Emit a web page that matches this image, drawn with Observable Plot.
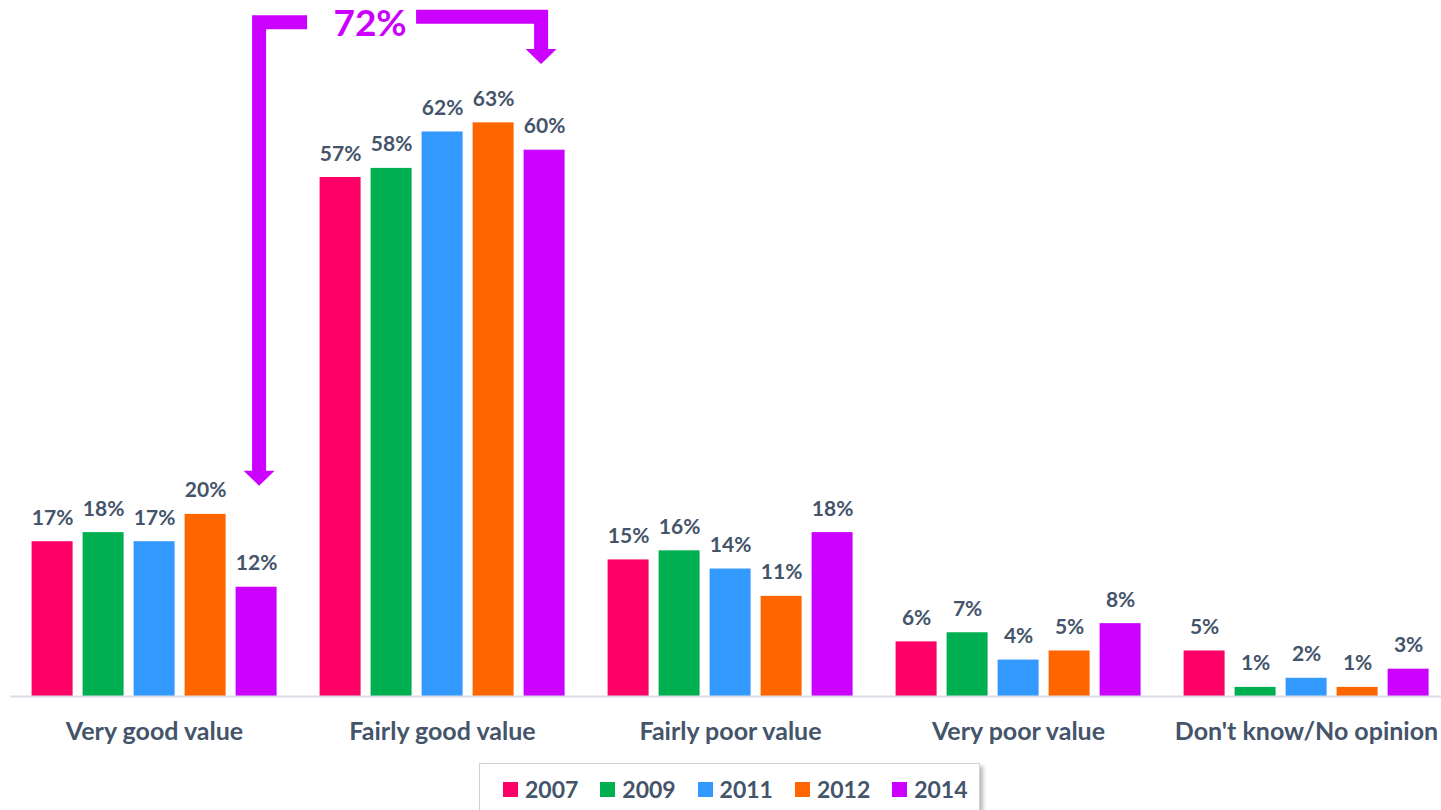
<!DOCTYPE html>
<html>
<head>
<meta charset="utf-8">
<script src="https://cdn.jsdelivr.net/npm/d3@7"></script>
<script src="https://cdn.jsdelivr.net/npm/@observablehq/plot@0.6"></script>
<style>
  html, body { margin: 0; padding: 0; background: #fff; overflow: hidden; }
  #chart svg { display: block; }
  .legend {
    margin-left: 479px; margin-top: 3px; width: 501px; height: 60px;
    box-sizing: border-box; border: 1px solid #d2d2d2;
    box-shadow: 3px 3px 4px rgba(0,0,0,0.28);
    display: flex; padding-left: 23px; padding-top: 11px;
    font-family: Lato, sans-serif; font-weight: 700; font-size: 23px; color: #44546A;
  }
  .legend .item { width: 97.3px; display: flex; align-items: center; height: 28px; flex: none; }
  .legend .sw { width: 15px; height: 15px; margin-right: 7px; flex: none; }
</style>
</head>
<body>
<div id="chart"></div>
<div class="legend" id="legend"></div>
<script>
// ---- data ----
const categories = ["Very good value", "Fairly good value", "Fairly poor value", "Very poor value", "Don't know/No opinion"];
const years = ["2007", "2009", "2011", "2012", "2014"];
const colors = ["#FF0066", "#00B050", "#3399FF", "#FF6600", "#CC00FF"];
const v2007 = [17, 57, 15, 6, 5];
const v2009 = [18, 58, 16, 7, 1];
const v2011 = [17, 62, 14, 4, 2];
const v2012 = [20, 63, 11, 5, 1];
const v2014 = [12, 60, 18, 8, 3];
// annotation: bracket from 2014 "Very good value" to 2014 "Fairly good value"
const bracketLabel = "72%";
const bracketFrom = {category: "Very good value", year: "2014", tip: 23.1, top: 74.0};
const bracketTo = {category: "Fairly good value", year: "2014", tip: 69.4, top: 74.6};

const seriesByYear = {"2007": v2007, "2009": v2009, "2011": v2011, "2012": v2012, "2014": v2014};
const data = categories.flatMap((c, i) => years.map(yr => ({category: c, year: yr, value: seriesByYear[yr][i]})));

const textColor = "#44546A";
const plot = Plot.plot({
  width: 1441,
  height: 760,
  marginLeft: 9.4,
  marginRight: -9.6,
  marginTop: 4,
  marginBottom: 64,
  style: {fontFamily: "Lato, sans-serif", background: "#fff", overflow: "visible"},
  fx: {domain: categories, padding: 0, axis: null},
  x: {domain: years, paddingInner: 0.2, paddingOuter: 0.405, axis: null},
  y: {domain: [0, 76], axis: null},
  color: {domain: years, range: colors},
  marks: [
    Plot.barY(data, {fx: "category", x: "year", y: "value", fill: "year"}),
    Plot.ruleY([0], {stroke: "#D9DEE6", strokeWidth: 2}),
    Plot.text(data, {fx: "category", x: "year", y: "value", text: d => d.value + "%",
      lineAnchor: "bottom", dy: -17, fontSize: 21, fontWeight: 700, fill: textColor}),
    Plot.text(categories, {fx: d => d, text: d => d, frameAnchor: "bottom", dy: 35,
      lineAnchor: "middle", fontSize: 25, fontWeight: 700, fill: textColor})
  ]
});
document.getElementById("chart").appendChild(plot);

// ---- annotation using the plot's scales ----
const sFx = plot.scale("fx"), sX = plot.scale("x"), sY = plot.scale("y");
const xr0 = Math.min(...sX.range);
const cx = (cat, yr) => sFx.apply(cat) + sX.apply(yr) - xr0 + sX.bandwidth / 2;
const purple = colors[4];
const xL = cx(bracketFrom.category, bracketFrom.year) + 3;
const xR = cx(bracketTo.category, bracketTo.year) - 3;
const yLT = sY.apply(bracketFrom.top), yRT = sY.apply(bracketTo.top);
const yLTip = sY.apply(bracketFrom.tip), yRTip = sY.apply(bracketTo.tip);
const tc = xL + 0.39 * (xR - xL);
const shaft = 14, headW = 31, headL = 15;
const g = d3.select(plot).append("g").attr("fill", "none");
g.append("polyline").attr("points", [[tc - 62, yLT], [xL, yLT], [xL, yLTip - headL + 1]].join(" "))
  .attr("stroke", purple).attr("stroke-width", shaft).attr("stroke-linejoin", "miter");
g.append("polygon").attr("points", [[xL - headW / 2, yLTip - headL], [xL + headW / 2, yLTip - headL], [xL, yLTip]].join(" "))
  .attr("fill", purple);
g.append("polyline").attr("points", [[tc + 47, yRT], [xR, yRT], [xR, yRTip - headL + 1]].join(" "))
  .attr("stroke", purple).attr("stroke-width", shaft).attr("stroke-linejoin", "miter");
g.append("polygon").attr("points", [[xR - headW / 2, yRTip - headL], [xR + headW / 2, yRTip - headL], [xR, yRTip]].join(" "))
  .attr("fill", purple);
g.append("text").attr("x", tc + 1).attr("y", (yLT + yRT) / 2 + 17).attr("text-anchor", "middle")
  .attr("fill", purple).attr("font-size", 37).attr("font-weight", 700).attr("font-family", "Lato, sans-serif")
  .text(bracketLabel);

// ---- legend ----
const legend = document.getElementById("legend");
years.forEach((yr, i) => {
  const it = document.createElement("div"); it.className = "item";
  const sw = document.createElement("span"); sw.className = "sw"; sw.style.background = colors[i];
  const tx = document.createElement("span"); tx.textContent = yr;
  it.appendChild(sw); it.appendChild(tx); legend.appendChild(it);
});
</script>
</body>
</html>
